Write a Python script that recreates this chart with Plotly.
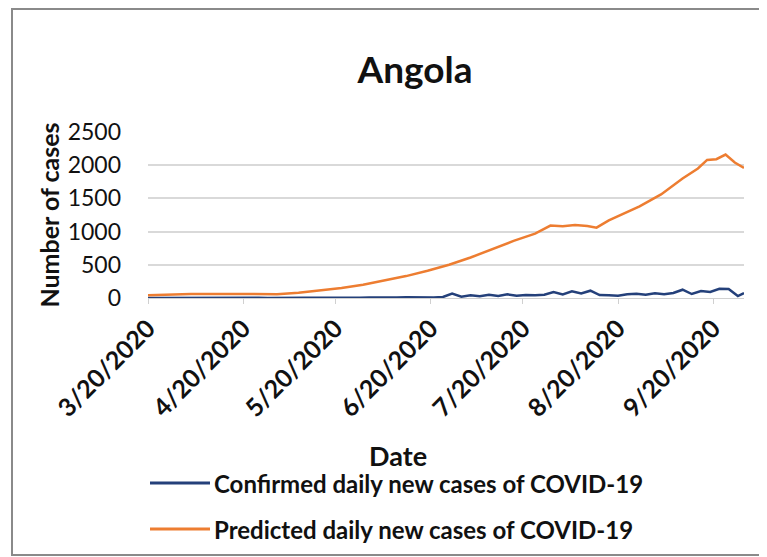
import plotly.graph_objects as go

# confirmed daily new cases (read every 3 days from the picture)
confirmed_dates = [
    "2020-03-20", "2020-03-23", "2020-03-26", "2020-03-29", "2020-04-01", "2020-04-04",
    "2020-04-07", "2020-04-10", "2020-04-13", "2020-04-16", "2020-04-19", "2020-04-22",
    "2020-04-25", "2020-04-28", "2020-05-01", "2020-05-04", "2020-05-07", "2020-05-10",
    "2020-05-13", "2020-05-16", "2020-05-19", "2020-05-22", "2020-05-25", "2020-05-28",
    "2020-05-31", "2020-06-03", "2020-06-06", "2020-06-09", "2020-06-12", "2020-06-15",
    "2020-06-18", "2020-06-21", "2020-06-24", "2020-06-27", "2020-06-30", "2020-07-03",
    "2020-07-06", "2020-07-09", "2020-07-12", "2020-07-15", "2020-07-18", "2020-07-21",
    "2020-07-24", "2020-07-27", "2020-07-30", "2020-08-02", "2020-08-05", "2020-08-08",
    "2020-08-11", "2020-08-14", "2020-08-17", "2020-08-20", "2020-08-23", "2020-08-26",
    "2020-08-29", "2020-09-01", "2020-09-04", "2020-09-07", "2020-09-10", "2020-09-13",
    "2020-09-16", "2020-09-19", "2020-09-22", "2020-09-25", "2020-09-28", "2020-09-30",
]
confirmed = [
    1, 2, 1, 2, 1, 2, 1, 3, 2, 1, 3, 2,
    3, 1, 4, 2, 3, 2, 4, 2, 5, 3, 6, 4,
    8, 5, 10, 7, 12, 8, 10, 8, 15, 65, 20, 40,
    25, 50, 30, 55, 35, 45, 40, 50, 90, 55, 100, 70,
    110, 45, 40, 35, 55, 65, 50, 70, 55, 75, 125, 60,
    105, 90, 140, 135, 30, 75,
]

# predicted daily new cases
predicted_dates = [
    "2020-03-20", "2020-03-27", "2020-04-03", "2020-04-10", "2020-04-17", "2020-04-24",
    "2020-05-01", "2020-05-08", "2020-05-15", "2020-05-22", "2020-05-29", "2020-06-05",
    "2020-06-12", "2020-06-19", "2020-06-26", "2020-07-03", "2020-07-10", "2020-07-17",
    "2020-07-24", "2020-07-29", "2020-08-02", "2020-08-06", "2020-08-10", "2020-08-13",
    "2020-08-17", "2020-08-20", "2020-08-27", "2020-09-03", "2020-09-10", "2020-09-15",
    "2020-09-18", "2020-09-21", "2020-09-24", "2020-09-27", "2020-09-30",
]
predicted = [
    40, 55, 60, 60, 58, 55,
    58, 80, 110, 150, 200, 260,
    330, 410, 500, 610, 740, 860,
    970, 1090, 1080, 1100, 1085, 1060,
    1170, 1230, 1380, 1560, 1800, 1950,
    2080, 2090, 2160, 2040, 1960,
]

tick_dates = ["2020-03-20", "2020-04-20", "2020-05-20", "2020-06-20",
              "2020-07-20", "2020-08-20", "2020-09-20"]
tick_text = ["3/20/2020", "4/20/2020", "5/20/2020", "6/20/2020",
             "7/20/2020", "8/20/2020", "9/20/2020"]
y_ticks = [0, 500, 1000, 1500, 2000, 2500]

names = ["Confirmed daily new cases of COVID-19",
         "Predicted daily new cases of COVID-19"]
colors = ["#24407a", "#ed7d31"]

FONT = "Lato"
TXT = "#111111"
# page body has an 8px margin, so the figure is 8px smaller and all
# pixel targets below are the reference positions minus 8
W, H = 759, 549
L, R, T, B = 140, 736, 124, 290  # plot area in pixels


def px(x):
    return (x - L) / (R - L)


def py(y):
    return (B - y) / (B - T)


fig = go.Figure()

fig.add_trace(go.Scatter(
    x=confirmed_dates, y=confirmed, mode="lines",
    line=dict(color=colors[0], width=2.5), name=names[0],
))
fig.add_trace(go.Scatter(
    x=predicted_dates, y=predicted, mode="lines",
    line=dict(color=colors[1], width=2.5), name=names[1],
))

fig.update_layout(
    width=W, height=H,
    margin=dict(l=L, r=W - R, t=T, b=H - B),
    paper_bgcolor="white", plot_bgcolor="white",
    font=dict(family=FONT, color=TXT),
    title=dict(text="<b>Angola</b>", x=407 / W, xanchor="center",
               y=1 - 62 / H, yanchor="middle",
               font=dict(family=FONT, size=37, color=TXT)),
    showlegend=False,
)

fig.update_xaxes(
    type="date", range=["2020-03-20", "2020-09-30"],
    tickvals=tick_dates, ticktext=tick_text, tickangle=-45,
    tickfont=dict(family=FONT, size=25, color=TXT, weight="bold"),
    showgrid=False, showline=True, linecolor="#d0d0d0", linewidth=1,
    ticks="outside", ticklen=5, tickcolor="#d0d0d0",
    zeroline=False,
)
fig.update_yaxes(
    range=[0, 2500], tickvals=y_ticks,
    tickfont=dict(family=FONT, size=23, color=TXT),
    showgrid=True, gridcolor="#d9d9d9", gridwidth=1.5,
    zeroline=False, showline=False, ticklabelstandoff=26,
    title=dict(text="<b>Number of cases</b>", standoff=0,
               font=dict(family=FONT, size=25, color=TXT)),
)

fig.add_annotation(text="<b>Date</b>", x=px(390), y=py(447),
                   xref="paper", yref="paper", showarrow=False,
                   xanchor="center", yanchor="middle",
                   font=dict(family=FONT, size=27, color=TXT))

# legend drawn as in the original: long line swatch + bold label
for i, ly in enumerate([475, 521]):
    fig.add_shape(type="line", xref="paper", yref="paper",
                  x0=px(142), x1=px(202), y0=py(ly), y1=py(ly),
                  line=dict(color=colors[i], width=3))
    fig.add_annotation(text="<b>" + names[i] + "</b>", x=px(204), y=py(ly),
                       xref="paper", yref="paper", showarrow=False,
                       xanchor="left", yanchor="middle",
                       font=dict(family=FONT, size=24, color=TXT))

# outer chart frame
fig.add_shape(type="rect", xref="paper", yref="paper",
              x0=px(4), x1=px(755), y0=py(547), y1=py(1),
              line=dict(color="#8a8a8a", width=2), layer="below")

fig.write_html("out.html")
